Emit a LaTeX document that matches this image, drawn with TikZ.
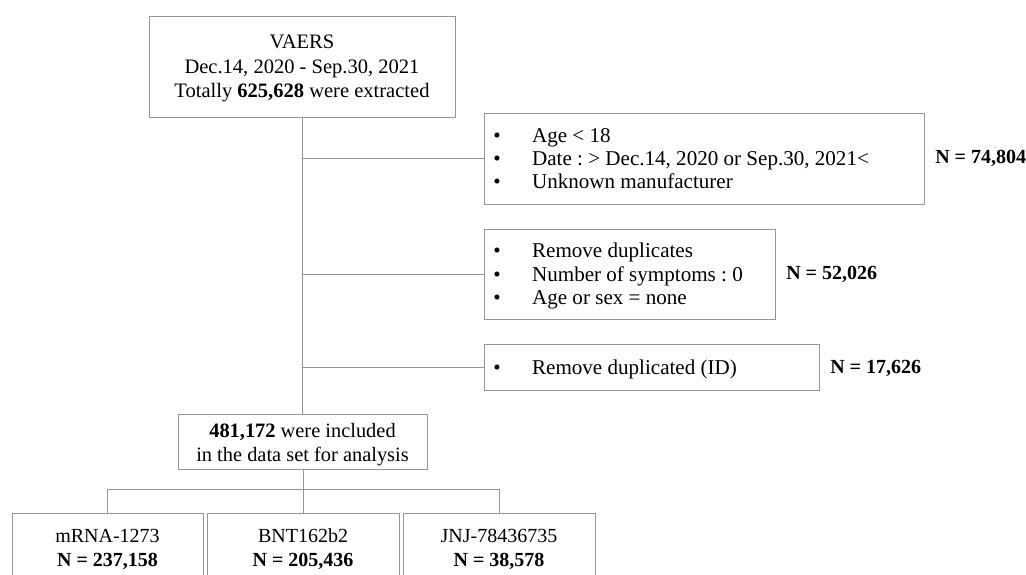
\documentclass[tikz,border=0pt]{standalone}
\usepackage{fontspec}
\setmainfont{Liberation Serif}
\usetikzlibrary{calc}
\definecolor{linegray}{RGB}{150,150,150}
\newcommand{\itm}[2]{\makebox[#1][l]{\makebox[29pt][l]{\textbullet}#2}}
\begin{document}
\frenchspacing
\lineskiplimit=-20pt
\begin{tikzpicture}[x=0.75pt,y=-0.75pt,
  box/.style={draw=linegray, line width=0.75pt, inner sep=0pt, align=center,
              text depth=0pt, font=\fontsize{15.3}{18}\selectfont},
  vaxbox/.style={box, minimum width=144pt, minimum height=52.5pt,
              font=\fontsize{15}{18}\selectfont},
  listbox/.style={draw=linegray, line width=0.75pt, inner sep=0pt,
              text depth=0pt, align=left, font=\fontsize{15.8}{17.6}\selectfont},
  count/.style={font=\fontsize{15}{18}\selectfont\bfseries, inner sep=0pt, anchor=west},
  conn/.style={draw=linegray, line width=0.75pt}]
\useasboundingbox (0,0) rectangle (1026,575);
\clip (0,0) rectangle (1026,575);

\node[box, minimum width=229.5pt, minimum height=75.75pt, font=\fontsize{15.4}{18.4}\selectfont] (src) at (302,66.5)
  {VAERS\\Dec.14, 2020 - Sep.30, 2021\\Totally \textbf{625,628} were extracted};

\node[listbox, minimum width=330pt, minimum height=68.25pt] (ex1) at (704,158.5)
  {\itm{315.8pt}{Age < 18}\\\itm{315.8pt}{Date : > Dec.14, 2020 or Sep.30, 2021<}\\\itm{315.8pt}{Unknown manufacturer}};
\node[count] (n1) at (935,158) {N = 74,804};

\node[listbox, minimum width=218.25pt, minimum height=67.5pt] (ex2) at (629.5,274)
  {\itm{204.05pt}{Remove duplicates}\\\itm{204.05pt}{Number of symptoms : 0}\\\itm{204.05pt}{Age or sex = none}};
\node[count] (n2) at (786,274) {N = 52,026};

\node[listbox, minimum width=251.25pt, minimum height=34.5pt] (ex3) at (651.5,367)
  {\itm{237.05pt}{Remove duplicated (ID)}};
\node[count] (n3) at (830,368) {N = 17,626};

\node[box, minimum width=186.75pt, minimum height=41.25pt] (inc) at (302.5,442)
  {\textbf{481,172} were included\\in the data set for analysis};

\node[vaxbox, minimum width=143.25pt] (mrna) at (107.5,548)
  {mRNA-1273\\\textbf{N = 237,158}};
\node[vaxbox] (bnt) at (303,548)
  {BNT162b2\\\textbf{N = 205,436}};
\node[vaxbox] (jnj) at (499,548)
  {JNJ-78436735\\\textbf{N = 38,578}};

\draw[conn] (src.south -| inc.north) -- (inc.north);
\draw[conn] (inc.north |- ex1.west) -- (ex1.west);
\draw[conn] (inc.north |- ex2.west) -- (ex2.west);
\draw[conn] (inc.north |- ex3.west) -- (ex3.west);
\coordinate (split) at ($(bnt.north)+(0,-23)$);
\draw[conn] (inc.south -| bnt.north) -- (bnt.north);
\draw[conn] (mrna.north) -- (mrna.north |- split) -- (jnj.north |- split) -- (jnj.north);
\end{tikzpicture}
\end{document}
